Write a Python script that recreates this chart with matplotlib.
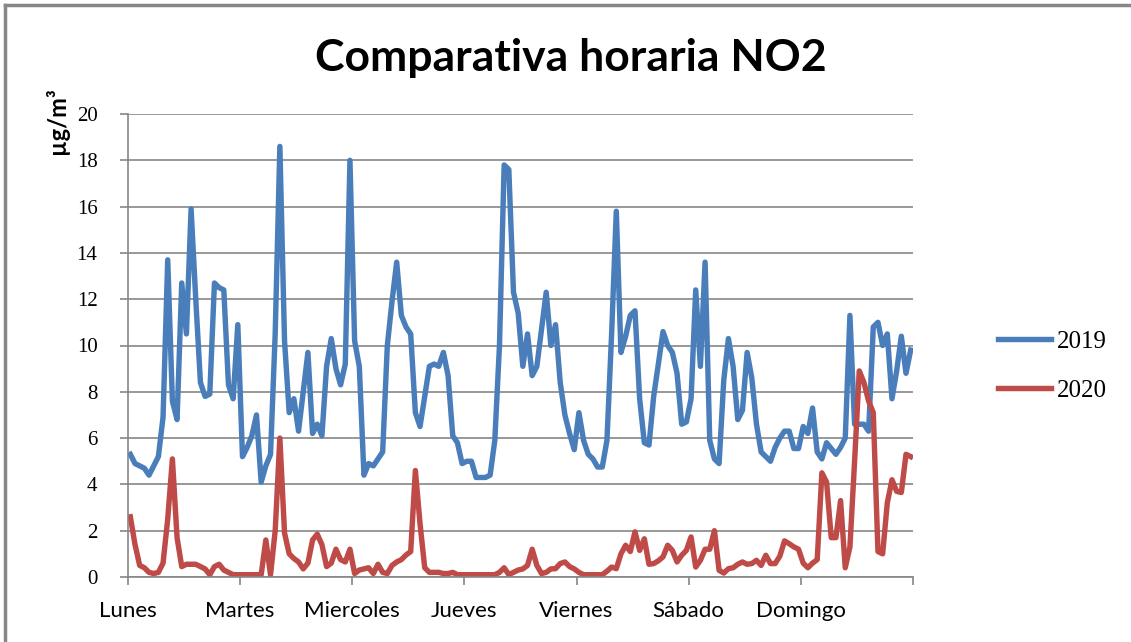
import matplotlib
matplotlib.use('Agg')
import matplotlib.pyplot as plt
from matplotlib import font_manager
from matplotlib.lines import Line2D
import numpy as np

# dias de la semana (una etiqueta por cada 24 horas)
dias = ['Lunes', 'Martes', 'Miercoles', 'Jueves', 'Viernes', 'Sábado', 'Domingo']

# NO2 horario 2019 (µg/m3), 24 valores por dia
no2_2019 = [
    5.3, 4.9, 4.8, 4.7, 4.4, 4.8, 5.2, 6.9, 13.7, 7.6, 6.8, 12.7,
    10.5, 15.9, 12.0, 8.4, 7.8, 7.9, 12.7, 12.5, 12.4, 8.3, 7.7, 10.9,
    5.2, 5.6, 6.1, 7.0, 4.1, 4.8, 5.3, 10.5, 18.6, 10.2, 7.1, 7.7,
    6.3, 8.0, 9.7, 6.2, 6.6, 6.1, 9.1, 10.3, 9.0, 8.3, 9.2, 18.0,
    10.2, 9.1, 4.4, 4.9, 4.8, 5.1, 5.4, 10.0, 11.9, 13.6, 11.3, 10.8,
    10.5, 7.1, 6.5, 7.8, 9.1, 9.2, 9.1, 9.7, 8.7, 6.1, 5.8, 4.9,
    5.0, 5.0, 4.3, 4.3, 4.3, 4.4, 5.9, 10.0, 17.8, 17.6, 12.3, 11.4,
    9.1, 10.5, 8.7, 9.1, 10.7, 12.3, 10.0, 10.9, 8.4, 7.0, 6.2, 5.5,
    7.1, 5.9, 5.3, 5.1, 4.75, 4.75, 5.9, 10.5, 15.8, 9.7, 10.4, 11.3,
    11.5, 7.7, 5.8, 5.7, 7.8, 9.2, 10.6, 10.0, 9.7, 8.8, 6.6, 6.7,
    7.7, 12.4, 9.1, 13.6, 5.9, 5.1, 4.9, 8.5, 10.3, 9.1, 6.8, 7.2,
    9.7, 8.6, 6.6, 5.4, 5.2, 5.0, 5.6, 6.0, 6.3, 6.3, 5.55, 5.55,
    6.5, 6.2, 7.3, 5.4, 5.1, 5.8, 5.55, 5.3, 5.6, 6.0, 11.3, 6.6,
    6.6, 6.6, 6.3, 10.8, 11.0, 10.0, 10.5, 7.7, 8.9, 10.4, 8.8, 9.8,
]

# NO2 horario 2020 (µg/m3)
no2_2020 = [
    2.6, 1.4, 0.5, 0.4, 0.2, 0.15, 0.2, 0.6, 2.5, 5.1, 1.7, 0.45,
    0.55, 0.55, 0.55, 0.45, 0.35, 0.1, 0.45, 0.55, 0.3, 0.2, 0.1, 0.1,
    0.1, 0.1, 0.1, 0.1, 0.1, 1.6, 0.1, 2.0, 6.0, 1.9, 1.0, 0.8,
    0.65, 0.35, 0.6, 1.6, 1.85, 1.4, 0.45, 0.6, 1.2, 0.75, 0.65, 1.2,
    0.15, 0.3, 0.35, 0.4, 0.15, 0.55, 0.2, 0.15, 0.5, 0.65, 0.75, 0.95,
    1.1, 4.6, 2.3, 0.4, 0.2, 0.2, 0.2, 0.15, 0.15, 0.2, 0.1, 0.1,
    0.1, 0.1, 0.1, 0.1, 0.1, 0.1, 0.1, 0.2, 0.4, 0.1, 0.2, 0.3,
    0.35, 0.5, 1.2, 0.5, 0.15, 0.2, 0.35, 0.36, 0.58, 0.65, 0.45, 0.35,
    0.2, 0.1, 0.1, 0.1, 0.1, 0.1, 0.25, 0.43, 0.36, 1.0, 1.37, 1.1,
    1.95, 1.15, 1.65, 0.55, 0.58, 0.7, 0.87, 1.37, 1.15, 0.65, 0.94, 1.15,
    1.73, 0.43, 0.72, 1.2, 1.2, 2.0, 0.29, 0.17, 0.36, 0.4, 0.55, 0.65,
    0.55, 0.58, 0.72, 0.5, 0.94, 0.58, 0.58, 0.9, 1.56, 1.44, 1.3, 1.2,
    0.6, 0.4, 0.6, 0.75, 4.5, 4.1, 1.7, 1.7, 3.3, 0.4, 1.3, 5.0,
    8.9, 8.4, 7.6, 7.1, 1.1, 1.0, 3.2, 4.2, 3.7, 3.65, 5.3, 5.2,
]

y_ticks = list(range(0, 21, 2))

# fuentes: se busca una sans estrecha parecida a Calibri
instaladas = {f.name for f in font_manager.fontManager.ttflist}
sans = 'Liberation Sans Narrow' if 'Liberation Sans Narrow' in instaladas else 'Lato'
serif = 'Liberation Serif'
gris = '#868686'

fig = plt.figure(figsize=(11.31, 6.42), dpi=100)
ax = fig.add_axes([128 / 1131, 1 - 577 / 642, (913 - 128) / 1131, (577 - 114) / 642])

horas = np.arange(len(no2_2019)) + 0.5
ax.plot(horas, no2_2019, color='#4A7EBB', lw=3.9, label='2019', solid_joinstyle='round')
ax.plot(horas, no2_2020, color='#BE4B48', lw=3.9, label='2020', solid_joinstyle='round')

ax.set_xlim(0, len(no2_2019))
ax.set_ylim(0, 20)
ax.set_yticks(y_ticks)
ax.set_yticklabels([str(v) for v in y_ticks], family=serif, fontsize=15)
ax.set_xticks(np.arange(0, len(no2_2019) + 1, 24))
ax.set_xticklabels(dias + [''], family=sans, fontsize=16)

ax.grid(axis='y', color=gris, lw=1.2)
ax.set_axisbelow(True)
for lado in ['top', 'right']:
    ax.spines[lado].set_visible(False)
for lado in ['left', 'bottom']:
    ax.spines[lado].set_color(gris)
    ax.spines[lado].set_linewidth(1.2)
ax.tick_params(axis='y', length=6, width=1.2, color=gris, pad=16)
ax.tick_params(axis='x', length=6, width=1.2, color=gris, pad=11)

ax.set_ylabel('µg/m³', family=sans, fontweight='bold', fontsize=17)
ax.yaxis.set_label_coords(-0.106, 0.985)
ax.yaxis.label.set_va('top')

fig.text(0.505, 1 - 58 / 642, 'Comparativa horaria NO2', ha='center', va='center',
         family=sans, fontweight='bold', fontsize=32)

leg = ax.legend(loc='center left', bbox_to_anchor=(998 / 1131, 1 - 366 / 642),
                bbox_transform=fig.transFigure, frameon=False, borderpad=0,
                borderaxespad=0, handlelength=2.1, handletextpad=0.25,
                labelspacing=1.05, prop={'family': serif, 'size': 18})

# marco gris del grafico (solo arriba e izquierda)
fig.add_artist(Line2D([4.5 / 1131, 4.5 / 1131], [0, 1 - 4.5 / 642], color='#878787', lw=2.5))
fig.add_artist(Line2D([4.5 / 1131, 1], [1 - 4.5 / 642, 1 - 4.5 / 642], color='#878787', lw=2.5))

fig.savefig('out.png', dpi=100)
